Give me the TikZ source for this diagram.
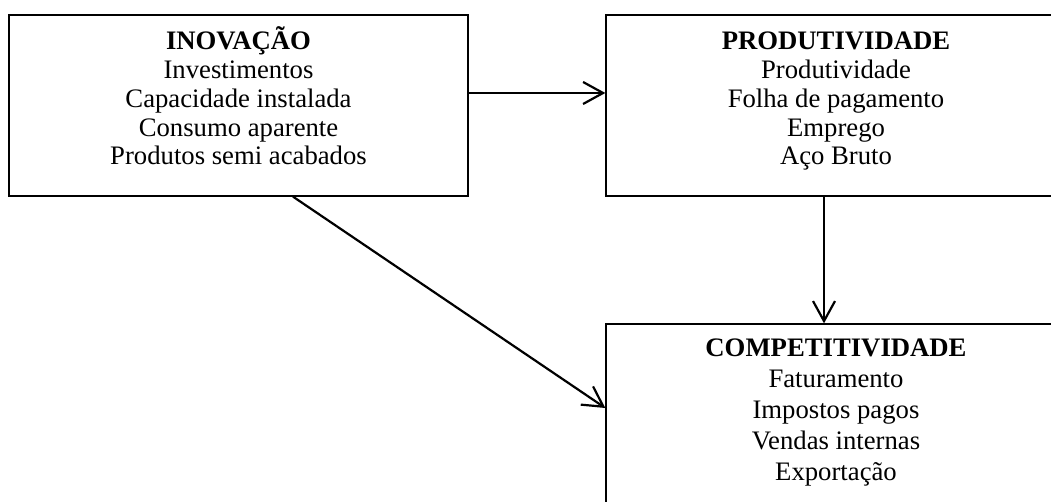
\documentclass[tikz,border=0pt]{standalone}
\usepackage{fontspec}
\setmainfont{Liberation Serif}
\usetikzlibrary{arrows.meta}
\begin{document}
\begin{tikzpicture}[x=1pt,y=1pt,
  blockbox/.style={draw,line width=1.3pt,rectangle,inner sep=0pt},
  blocktext/.style={align=center,anchor=base,inner sep=0pt,
    font=\fontsize{26.7}{28.8}\selectfont},
  link/.style={line width=2.2pt,-{Straight Barb[length=20pt,width=22pt]}}]
  \useasboundingbox (0,0) rectangle (1051,501);
  \clip (0,0) rectangle (1051,501);
  % three blocks
  \node[blockbox,minimum width=459pt,minimum height=181pt] (inov) at (238.5,395.5) {};
  \node[blockbox,minimum width=460pt,minimum height=181pt] (prod) at (836,395.5) {};
  \node[blockbox,minimum width=460pt,minimum height=186pt] (comp) at (836,84) {};
  % block contents (anchored at the baseline of the last line)
  \node[blocktext] (inovT) at (238.5,336) {\textbf{INOVAÇÃO}\\Investimentos\\Capacidade instalada\\Consumo aparente\\Produtos semi acabados};
  \node[blocktext] (prodT) at (836,336) {\textbf{PRODUTIVIDADE}\\Produtividade\\Folha de pagamento\\Emprego\\Aço Bruto};
  \node[blocktext,font=\fontsize{26.7}{30.8}\selectfont] (compT) at (836,21) {\textbf{COMPETITIVIDADE}\\Faturamento\\Impostos pagos\\Vendas internas\\Exportação};
  % connectors
  \draw[link] ([yshift=12.5pt]inov.east) -- ([yshift=12.5pt]prod.west);
  \draw[link] ([xshift=-12pt]prod.south) -- ([xshift=-12pt]comp.north);
  \draw[link] ([xshift=54.5pt]inov.south) -- ([yshift=9pt]comp.west);
\end{tikzpicture}
\end{document}
